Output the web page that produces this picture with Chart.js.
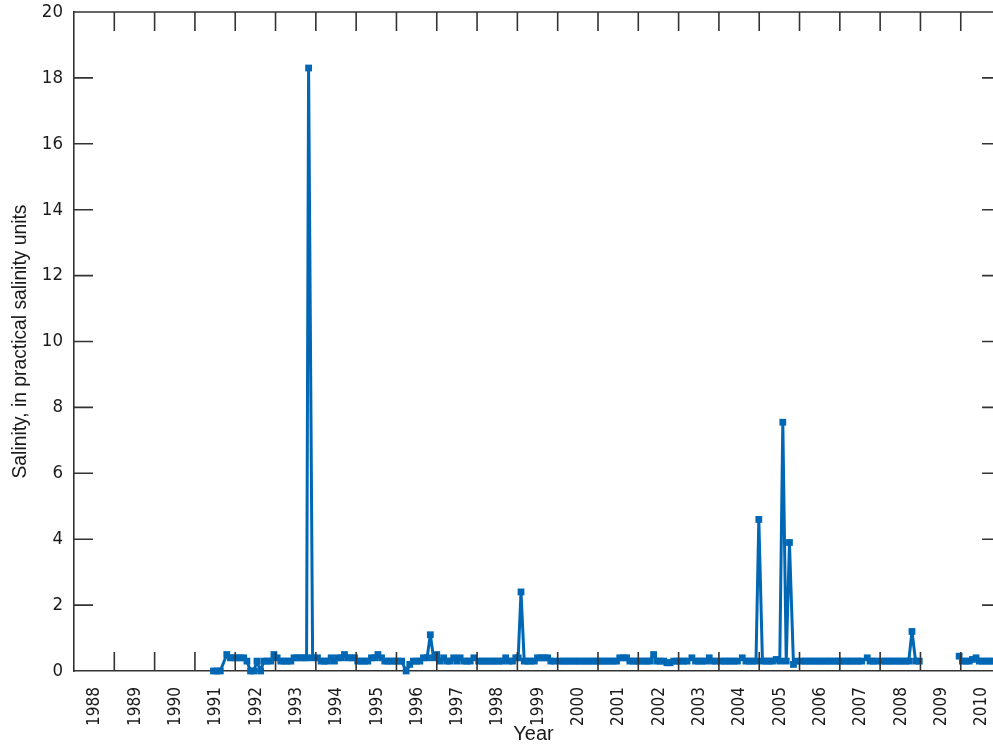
<!DOCTYPE html>
<html><head><meta charset="utf-8">
<script src="https://cdn.jsdelivr.net/npm/chart.js@4.4.1/dist/chart.umd.min.js"></script>
<style>html,body{margin:0;padding:0;background:#fff;overflow:hidden}</style>
</head><body>
<canvas id="c" width="993" height="746"></canvas>
<script>
// Sample dates (decimal years) and salinity values (practical salinity units)
const sampleDates = [
  1991.46,1991.54,1991.63,1991.79,1991.88,1991.96,
  1992.04,1992.13,1992.21,1992.29,1992.38,1992.46,1992.54,1992.63,1992.71,1992.79,1992.88,1992.96,
  1993.04,1993.13,1993.21,1993.29,1993.38,1993.46,1993.54,1993.63,1993.71,1993.77,1993.82,1993.92,
  1994.04,1994.13,1994.21,1994.29,1994.38,1994.46,1994.54,1994.63,1994.71,1994.79,1994.88,1994.96,
  1995.04,1995.13,1995.21,1995.29,1995.38,1995.46,1995.54,1995.63,1995.71,1995.79,1995.88,1995.96,
  1996.04,1996.13,1996.24,1996.33,1996.42,1996.50,1996.58,1996.67,1996.76,1996.84,1996.92,
  1997.00,1997.08,1997.17,1997.25,1997.33,1997.42,1997.50,1997.58,1997.67,1997.75,1997.83,1997.92,
  1998.04,1998.13,1998.21,1998.29,1998.38,1998.46,1998.54,1998.63,1998.71,1998.79,1998.88,1998.96,
  1999.02,1999.09,1999.17,1999.25,1999.33,1999.42,1999.50,1999.58,1999.67,1999.75,1999.83,1999.92,
  2000.04,2000.13,2000.21,2000.29,2000.38,2000.46,2000.54,2000.63,2000.71,2000.79,2000.88,2000.96,
  2001.04,2001.13,2001.21,2001.29,2001.38,2001.46,2001.54,2001.63,2001.71,2001.79,2001.88,2001.96,
  2002.04,2002.13,2002.21,2002.29,2002.38,2002.46,2002.54,2002.63,2002.71,2002.79,2002.88,2002.96,
  2003.04,2003.13,2003.21,2003.33,2003.42,2003.50,2003.58,2003.67,2003.76,2003.84,2003.92,
  2004.04,2004.13,2004.21,2004.29,2004.38,2004.46,2004.58,2004.67,2004.75,2004.83,2004.92,2004.99,
  2005.08,2005.17,2005.25,2005.33,2005.42,2005.51,2005.585,2005.67,2005.75,2005.85,2005.92,
  2006.04,2006.13,2006.21,2006.29,2006.38,2006.46,2006.54,2006.63,2006.71,2006.79,2006.88,2006.96,
  2007.04,2007.13,2007.21,2007.29,2007.38,2007.46,2007.54,2007.68,2007.75,2007.83,2007.92,
  2008.04,2008.13,2008.21,2008.29,2008.38,2008.46,2008.54,2008.63,2008.71,2008.79,2008.88,2008.97,
  2009.50,
  2009.96,2010.04,2010.13,2010.21,2010.29,2010.38,2010.46,2010.54,2010.63,2010.71,2010.79
];
const salinity = [
  0,0,0,0.5,0.4,0.4,
  0.4,0.4,0.4,0.3,0,0,0.3,0,0.3,0.3,0.3,0.5,
  0.4,0.3,0.3,0.3,0.3,0.4,0.4,0.4,0.4,0.4,18.3,0.4,
  0.4,0.3,0.3,0.3,0.4,0.3,0.4,0.4,0.5,0.4,0.4,0.4,
  0.3,0.3,0.3,0.3,0.4,0.4,0.5,0.4,0.3,0.3,0.3,0.3,
  0.3,0.3,0,0.2,0.3,0.3,0.3,0.4,0.4,1.1,0.4,
  0.5,0.3,0.4,0.3,0.3,0.4,0.3,0.4,0.3,0.3,0.3,0.4,
  0.3,0.3,0.3,0.3,0.3,0.3,0.3,0.3,0.4,0.3,0.3,0.4,
  0.4,2.4,0.3,0.3,0.3,0.3,0.4,0.4,0.4,0.4,0.3,0.3,
  0.3,0.3,0.3,0.3,0.3,0.3,0.3,0.3,0.3,0.3,0.3,0.3,
  0.3,0.3,0.3,0.3,0.3,0.3,0.4,0.4,0.4,0.3,0.3,0.3,
  0.3,0.3,0.3,0.3,0.5,0.3,0.3,0.3,0.25,0.25,0.3,0.3,
  0.3,0.3,0.3,0.4,0.3,0.3,0.3,0.3,0.4,0.3,0.3,
  0.3,0.3,0.3,0.3,0.3,0.3,0.4,0.3,0.3,0.3,0.3,4.6,
  0.3,0.3,0.3,0.3,0.35,0.3,7.55,0.3,3.9,0.2,0.3,
  0.3,0.3,0.3,0.3,0.3,0.3,0.3,0.3,0.3,0.3,0.3,0.3,
  0.3,0.3,0.3,0.3,0.3,0.3,0.3,0.4,0.3,0.3,0.3,
  0.3,0.3,0.3,0.3,0.3,0.3,0.3,0.3,0.3,1.2,0.3,0.3,
  null,
  0.45,0.3,0.3,0.3,0.35,0.4,0.3,0.3,0.3,0.3,0.3
];
const yearTicks = [1988,1989,1990,1991,1992,1993,1994,1995,1996,1997,1998,1999,2000,2001,2002,2003,2004,2005,2006,2007,2008,2009,2010];
const yTicks = [0,2,4,6,8,10,12,14,16,18,20];

const NARROW = "'Liberation Sans Narrow','DejaVu Sans Condensed','Liberation Sans',sans-serif";
const SANS = "'Liberation Sans',Arial,sans-serif";
const INK = '#1a1a1a';
const AXIS = '#333333';

const points = sampleDates.map((d, i) => ({x: d, y: salinity[i]}));

const tickMarks = {
  id: 'tickMarks',
  afterDatasetsDraw(chart) {
    const {ctx, chartArea: a, scales: {x, y}} = chart;
    const L = 19;
    const xRight = x.getPixelForValue(2011);
    ctx.save();
    ctx.strokeStyle = AXIS;
    ctx.lineWidth = 1.6;
    ctx.beginPath();
    ctx.moveTo(a.left, a.top); ctx.lineTo(xRight, a.top);
    ctx.moveTo(xRight, a.top); ctx.lineTo(xRight, a.bottom);
    yearTicks.slice(1).concat([2011]).forEach(v => {
      const px = x.getPixelForValue(v);
      ctx.moveTo(px, a.bottom); ctx.lineTo(px, a.bottom - L);
      ctx.moveTo(px, a.top); ctx.lineTo(px, a.top + L);
    });
    yTicks.slice(1, -1).forEach(v => {
      const py = y.getPixelForValue(v);
      ctx.moveTo(a.left, py); ctx.lineTo(a.left + L, py);
      ctx.moveTo(xRight, py); ctx.lineTo(xRight - L, py);
    });
    ctx.stroke();
    ctx.restore();
  }
};

new Chart(document.getElementById('c').getContext('2d'), {
  type: 'line',
  data: {
    datasets: [{
      data: points,
      borderColor: '#0067b4',
      backgroundColor: '#0067b4',
      borderWidth: 3,
      borderJoinStyle: 'bevel',
      pointStyle: 'rect',
      pointRadius: 4.8,
      pointHoverRadius: 4.8,
      pointBorderWidth: 0,
      tension: 0,
      spanGaps: false,
      clip: 8
    }]
  },
  options: {
    responsive: false,
    animation: false,
    events: [],
    layout: {autoPadding: false, padding: {top: 12, left: 0, right: 0, bottom: 0}},
    plugins: {legend: {display: false}, tooltip: {enabled: false}},
    scales: {
      x: {
        type: 'linear', min: 1988, max: 2010.8,
        afterBuildTicks: s => { s.ticks = yearTicks.map(v => ({value: v})); },
        afterFit: s => { s.height = 75; s.paddingLeft = 0; s.paddingRight = 0; },
        grid: {display: true, drawOnChartArea: false, drawTicks: false},
        border: {display: true, color: AXIS, width: 1.6},
        ticks: {
          autoSkip: false, minRotation: 90, maxRotation: 90, labelOffset: 21, padding: 16,
          color: INK, font: {family: NARROW, size: 17},
          callback: v => String(v)
        },
        title: {display: true, text: 'Year', color: INK, font: {family: SANS, size: 20}, padding: {top: 0, bottom: 0}}
      },
      y: {
        min: 0, max: 20,
        afterBuildTicks: s => { s.ticks = yTicks.map(v => ({value: v})); },
        afterFit: s => { s.width = 74; s.paddingTop = 0; s.paddingBottom = 0; },
        grid: {display: true, drawOnChartArea: false, drawTicks: false},
        border: {display: true, color: AXIS, width: 1.6},
        ticks: {padding: 11, color: INK, font: {family: NARROW, size: 18.5}},
        title: {display: true, text: 'Salinity, in practical salinity units', color: INK, font: {family: SANS, size: 19.3}, padding: {top: 9, bottom: 0}}
      }
    }
  },
  plugins: [tickMarks]
});
</script>
</body></html>
